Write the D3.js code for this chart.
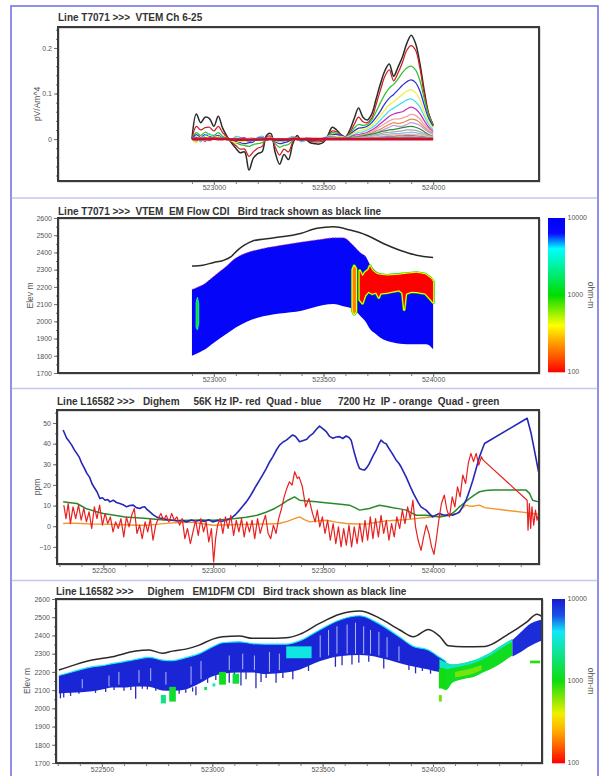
<!DOCTYPE html>
<html>
<head>
<meta charset="utf-8">
<script src="https://cdn.jsdelivr.net/npm/d3@7"></script>
<style>
  html, body { margin: 0; padding: 0; background: #ffffff; }
  svg { display: block; font-family: "Liberation Sans", Arial, sans-serif; }
</style>
</head>
<body>
<svg id="chart" width="601" height="776"></svg>
<script>
// ------------------------------------------------------------------
// Data
// ------------------------------------------------------------------

// VTEM line T7071: station easting (m) and dB/dt decay channels 6-25,
// amplitudes in units of 0.001 pV/Am^4.
const vtemStations = [
  522900,522920,522940,522960,522980,523000,523020,523040,523060,523080,523100,523120,523140,523160,
  523180,523200,523220,523240,523260,523280,523300,523320,523340,523360,523380,523400,523420,523440,
  523460,523480,523500,523520,523540,523560,523580,523600,523620,523640,523660,523680,523700,523720,
  523740,523760,523780,523800,523820,523840,523860,523880,523900,523920,523940,523960,523980,524000];
const ch06 = [0,55,36,48,45,28,50,24,6,-8,-20,-30,-28,-68,
  -42,-32,-28,8,12,-30,-55,-34,-45,-10,8,-5,-2,-8,
  -10,-11,-7,8,26,20,10,5,20,45,68,48,42,55,
  88,122,150,165,138,158,180,210,228,210,165,105,55,30];
const ch07 = [0,28,20,25,26,18,28,14,4,-6,-14,-22,-22,-38,
  -28,-20,-16,4,6,-18,-35,-22,-28,-6,5,-3,0,-5,
  -6,-6,-4,6,18,16,9,5,14,32,48,38,36,46,
  76,108,138,152,128,145,168,195,205,195,155,98,55,32];
const ch08 = [0,14,8,15,10,8,14,6,2,-3,-8,-12,-14,-16,
  -12,-10,-8,0,2,-10,-18,-14,-12,-3,3,-2,0,-3,
  -3,-3,-2,5,14,13,8,5,11,24,32,30,32,42,
  60,80,98,112,120,132,146,156,160,152,128,88,52,30];
const ch09 = [0,10,4,10,6,5,8,2,0,-2,-5,-8,-10,-8,
  -6,2,6,-2,0,-6,-10,-8,-5,0,2,0,0,-2,
  -2,-2,0,4,10,10,8,5,9,18,24,25,28,36,
  48,62,78,90,98,108,118,126,130,124,105,74,45,28];
const ch10 = [0,-8,5,2,8,4,6,0,0,-4,-8,-5,-6,-4,
  -3,0,3,0,4,-4,-6,-4,0,4,2,-4,2,0,
  2,0,2,6,8,5,6,4,8,14,18,20,24,30,
  40,52,64,75,82,90,98,105,108,102,86,60,38,24];
const ch11 = [0,5,-6,8,12,2,4,1,0,-2,6,4,-2,-5,
  -4,4,6,0,2,-2,-4,-5,2,6,0,-6,-2,2,
  0,-2,3,6,6,4,4,3,6,10,14,16,20,25,
  32,42,52,62,68,74,80,86,88,82,70,50,32,20];
const ch12 = [0,-4,3,-5,4,0,2,0,0,-1,-4,2,3,-3,
  -2,2,3,0,2,-3,-3,-2,0,3,1,-3,2,1,
  0,0,2,4,4,3,3,2,4,8,10,12,15,20,
  26,34,42,50,55,58,60,66,70,66,56,40,26,16];
const ch13 = [0,3,-3,2,-4,2,1,0,0,0,3,-3,-2,2,
  2,-2,0,0,1,-2,-2,0,2,2,-2,0,0,1,
  0,1,1,2,3,2,2,2,3,6,8,9,12,16,
  22,28,34,40,44,44,46,50,54,52,44,32,22,14];
const ch14 = [0,-2,2,-3,2,0,1,0,0,0,-2,2,1,-2,
  0,1,0,0,1,-1,-1,0,1,1,0,0,0,0,
  0,1,1,1,2,2,2,1,2,4,6,7,10,13,
  18,22,27,32,36,34,36,40,44,42,36,26,18,12];
const ch15 = [0,2,-2,1,-2,1,0,0,0,0,1,-1,-1,1,
  1,-1,0,0,0,-1,-1,0,1,1,0,0,0,0,
  0,0,1,1,1,1,1,1,2,3,4,5,7,10,
  14,18,22,26,30,28,28,32,36,34,30,22,15,10];
const ch16 = [0,1,1,-1,1,0,0,0,0,0,-1,1,0,-1,
  0,0,0,0,0,0,0,0,0,0,0,0,0,0,
  0,0,1,1,1,1,1,2,3,4,5,7,9,11,
  13,16,18,20,21,23,25,27,28,26,22,16,10,6];
const ch17 = [0,1,0,1,0,0,0,0,0,0,0,0,0,0,
  0,0,0,0,0,0,0,0,0,0,0,0,0,0,
  0,0,0,0,0,0,1,1,2,3,4,5,6,8,
  10,12,14,15,16,17,18,20,20,19,16,12,8,5];
const ch18 = [0,0,1,0,0,0,0,0,0,0,0,0,0,0,
  0,0,0,0,0,0,0,0,0,0,0,0,0,0,
  0,0,0,0,0,0,0,1,1,2,3,3,4,6,
  7,9,10,11,12,12,13,14,15,14,12,9,6,4];
const ch19 = [0,0,0,0,0,0,0,0,0,0,0,0,0,0,
  0,0,0,0,0,0,0,0,0,0,0,0,0,0,
  0,0,0,0,0,0,0,0,1,1,2,2,3,4,
  5,6,7,8,9,9,10,10,11,10,9,7,5,3];
const ch20 = [0,0,0,0,0,0,0,0,0,0,0,0,0,0,
  0,0,0,0,0,0,0,0,0,0,0,0,0,0,
  0,0,0,0,0,0,0,0,0,1,1,1,2,3,
  3,4,5,6,6,7,7,8,8,7,6,5,3,2];
const ch21 = [0,0,0,0,0,0,0,0,0,0,0,0,0,0,
  0,0,0,0,0,0,0,0,0,0,0,0,0,0,
  0,0,0,0,0,0,0,0,0,0,1,1,1,2,
  2,3,3,4,4,5,5,5,5,5,4,3,2,1];
const ch22 = [0,0,0,0,0,0,0,0,0,0,0,0,0,0,
  0,0,0,0,0,0,0,0,0,0,0,0,0,0,
  0,0,0,0,0,0,0,0,0,0,0,1,1,1,
  1,2,2,3,3,3,3,4,4,3,3,2,1,1];
const ch23 = [0,0,0,0,0,0,0,0,0,0,0,0,0,0,
  0,0,0,0,0,0,0,0,0,0,0,0,0,0,
  0,0,0,0,0,0,0,0,0,0,0,0,1,1,
  1,1,1,2,2,2,2,2,2,2,2,1,1,1];
const ch24 = [0,-1,1,0,-1,1,0,0,-1,-2,-2,-3,-2,-3,
  -2,-2,-1,0,0,-2,-3,-2,-2,-1,0,-1,0,-1,
  -1,-1,0,0,1,1,0,0,1,1,1,1,1,1,
  1,1,1,1,1,1,1,1,1,1,1,1,0,0];
const ch25 = [0,1,0,1,0,1,0,0,0,-1,-1,-1,-1,-2,
  -1,-1,-1,0,0,-1,-1,-1,-1,0,0,0,0,0,
  0,0,0,0,0,0,0,0,0,0,0,0,0,0,
  0,0,0,0,0,0,0,0,0,0,0,0,0,0];
const vtemChannels = [ch06,ch07,ch08,ch09,ch10,ch11,ch12,ch13,ch14,ch15,
                      ch16,ch17,ch18,ch19,ch20,ch21,ch22,ch23,ch24,ch25];

// VTEM EM Flow CDI, line T7071: [easting, top elev, bottom elev] (m)
const cdiVtemResistive = [[522900,2185,1800],[522920,2195,1812],[522950,2212,1830],[523000,2262,1876],
  [523050,2312,1920],[523100,2368,1964],[523150,2398,1998],[523200,2416,2021],[523300,2440,2045],
  [523400,2460,2062],[523500,2478,2095],[523545,2485,2101],[523590,2485,2088],[523635,2442,2070],
  [523667,2400,2033],[523694,2374,1995],[523712,2330,1955],[523740,2290,1925],[523758,2278,1906],
  [523818,2268,1877],[523880,2272,1867],[523940,2282,1867],[523970,2275,1867],[524000,2240,1838]];
const cdiVtemConductor = [[523665,2295,2125],[523678,2262,2105],[523690,2285,2150],[523705,2300,2172],
  [523712,2322,2168],[523722,2296,2160],[523740,2278,2168],[523752,2272,2138],[523760,2270,2162],
  [523790,2266,2166],[523810,2268,2172],[523845,2271,2180],[523860,2274,2165],[523868,2275,2068],
  [523876,2276,2160],[523900,2279,2172],[523925,2282,2170],[523964,2273,2162],[523990,2248,2125],
  [524000,2232,2110]];
const cdiVtemDyke = [[523633,2300,2060],[523640,2322,2042],[523648,2305,2055]];
const cdiVtemWestAnomaly = [[522919,2110,1965],[522925,2140,1950],[522931,2100,1990]];
const cdiVtemValues = { resistive: 8000, conductor: 100, dyke: 200, west: 900 };
const birdTrackVtem = [[522900,2321],[522950,2326],[523000,2342],[523040,2352],[523077,2374],
  [523110,2415],[523139,2442],[523180,2468],[523276,2485],[523395,2510],[523470,2540],[523545,2549],
  [523621,2530],[523697,2500],[523773,2452],[523848,2413],[523924,2384],[524000,2370]];

// Dighem line L16582 profiles: [easting, ppm]
const quad56k = [[522317,46.6],[522333,42.6],[522345,41.0],[522356,39.3],[522368,37.0],[522379,35.3],
  [522390,33.5],[522402,30.4],[522414,28.0],[522425,25.6],[522437,23.8],[522448,20.7],[522460,18.5],
  [522471,16.7],[522484,13.4],[522496,13.8],[522508,12.6],[522520,12.9],[522530,11.8],[522545,12.6],
  [522560,11.5],[522575,11.0],[522590,10.4],[522606,9.4],[522620,10.0],[522636,10.2],[522650,9.0],
  [522666,8.6],[522677,9.2],[522688,9.4],[522700,8.0],[522712,6.9],[522727,5.5],[522742,4.5],
  [522757,4.0],[522771,3.7],[522790,3.2],[522816,2.9],[522840,2.5],[522860,2.9],[522878,2.1],
  [522900,3.0],[522920,2.4],[522939,2.9],[522960,2.3],[522980,3.1],[522998,2.1],[523020,2.8],
  [523040,2.4],[523060,2.9],[523075,3.5],[523089,4.5],[523105,6.0],[523120,7.8],[523135,9.8],
  [523151,11.8],[523165,14.0],[523180,16.7],[523195,19.5],[523211,22.3],[523226,25.0],[523242,28.0],
  [523256,31.0],[523271,33.6],[523287,36.8],[523302,39.3],[523318,40.8],[523333,41.7],[523348,43.0],
  [523362,44.2],[523375,43.5],[523393,40.9],[523410,41.5],[523426,42.1],[523440,43.8],[523455,45.0],
  [523470,47.0],[523484,48.5],[523500,47.2],[523515,45.8],[523530,43.5],[523545,42.6],[523560,43.2],
  [523575,43.4],[523590,42.5],[523605,43.7],[523618,43.0],[523628,41.7],[523643,35.3],[523655,31.0],
  [523666,28.0],[523677,27.5],[523688,27.2],[523700,28.5],[523711,30.4],[523727,34.0],[523742,36.9],
  [523755,40.0],[523764,41.7],[523776,40.5],[523787,40.0],[523798,38.0],[523810,36.0],[523822,34.0],
  [523833,32.0],[523845,30.5],[523855,28.8],[523866,26.5],[523878,23.9],[523890,21.0],[523901,18.3],
  [523912,15.8],[523924,13.4],[523935,11.2],[523946,9.4],[523958,8.5],[523969,7.8],[523985,6.0],
  [523999,4.5],[524015,5.5],[524030,6.2],[524045,5.6],[524060,5.3],[524075,5.8],[524090,5.3],
  [524105,6.0],[524121,6.9],[524136,9.5],[524151,12.6],[524166,17.0],[524182,22.3],[524197,28.0],
  [524212,33.6],[524224,37.0],[524235,40.1],[524429,52.3],[524447,45.0],[524462,36.9],[524481,26.4]];
const ip56k = [[522320,10.2],[522330,3.7],[522340,11.0],[522350,1.3],[522362,9.4],[522374,3.7],
  [522387,10.2],[522399,2.9],[522411,8.6],[522423,2.1],[522435,7.0],[522447,-1.1],[522459,9.4],
  [522471,3.7],[522483,10.2],[522496,0.5],[522508,6.2],[522520,1.3],[522532,4.5],[522544,-2.7],
  [522556,2.1],[522568,-1.1],[522580,3.7],[522593,-5.2],[522605,4.5],[522617,-0.3],[522629,5.3],
  [522641,8.6],[522653,-3.5],[522665,0.5],[522677,-6.0],[522690,2.1],[522702,-2.7],[522714,3.7],
  [522726,-6.8],[522738,0.5],[522750,3.7],[522762,6.2],[522774,2.9],[522786,5.3],[522799,2.1],
  [522811,6.2],[522823,2.9],[522835,4.5],[522847,0.5],[522859,3.7],[522871,-6.0],[522883,-1.1],
  [522896,-8.4],[522908,-2.7],[522920,2.9],[522932,-4.4],[522944,3.7],[522956,-2.7],[522968,2.1],
  [522980,-7.6],[522992,-1.1],[523002,-17.3],[523011,-6.0],[523020,0.5],[523032,3.7],[523044,-3.5],
  [523056,4.5],[523068,-1.1],[523080,5.3],[523093,-4.4],[523105,2.9],[523117,-2.7],[523129,3.7],
  [523141,-5.2],[523153,2.1],[523165,-2.7],[523177,2.9],[523189,-6.0],[523202,3.7],[523214,-3.5],
  [523226,1.3],[523238,5.3],[523250,-3.5],[523262,-6.0],[523274,0.5],[523286,-3.5],[523298,3.7],
  [523311,8.6],[523323,14.2],[523335,18.3],[523347,21.5],[523359,19.9],[523371,26.4],[523383,23.1],
  [523391,23.9],[523406,19.1],[523421,9.4],[523436,13.4],[523452,6.2],[523464,2.1],[523474,7.8],
  [523485,-0.3],[523497,4.5],[523509,-3.5],[523521,2.9],[523533,-6.8],[523546,1.3],[523558,-8.4],
  [523570,-0.3],[523582,-10.0],[523594,-1.1],[523606,-9.2],[523618,0.5],[523630,-10.0],[523642,-0.3],
  [523655,-8.4],[523667,1.3],[523679,-7.6],[523691,2.9],[523703,-6.8],[523715,4.5],[523727,-6.0],
  [523739,3.7],[523752,-5.2],[523764,5.3],[523776,-3.5],[523788,2.9],[523800,-6.8],[523812,1.3],
  [523824,-5.2],[523836,4.5],[523849,-1.1],[523861,7.8],[523873,1.3],[523885,9.4],[523897,3.7],
  [523909,12.6],[523921,-0.3],[523933,-6.8],[523946,-11.7],[523958,-5.2],[523970,0.5],[523982,-3.5],
  [523994,-10.0],[524005,-13.6],[524015,-6.8],[524027,2.9],[524039,11.0],[524052,15.1],[524064,7.8],
  [524076,4.5],[524088,14.2],[524100,9.4],[524112,19.1],[524124,14.2],[524136,24.8],[524149,20.7],
  [524161,30.4],[524173,35.3],[524185,31.3],[524197,35.3],[524209,29.6],[524221,33.7],[524229,32.0],
  [524429,12.6],[524433,-1.9],[524439,11.0],[524445,-1.1],[524451,9.4],[524459,0.5],[524467,7.8],
  [524474,2.9],[524482,6.2]];
const quad7200 = [[522317,11.8],[522350,11.4],[522380,11.0],[522400,9.8],[522420,8.6],[522460,7.3],
  [522500,6.2],[522550,5.3],[522600,4.5],[522650,4.1],[522700,3.7],[522750,3.3],[522800,2.9],
  [522850,2.8],[522900,2.9],[522950,3.0],[523000,2.9],[523050,3.3],[523100,3.7],[523150,4.4],
  [523200,5.3],[523240,6.8],[523280,8.6],[523310,10.5],[523340,12.6],[523370,14.2],[523393,12.6],
  [523430,12.2],[523470,11.8],[523510,11.4],[523545,11.0],[523580,10.6],[523620,10.2],[523645,9.0],
  [523666,7.8],[523690,8.2],[523711,8.6],[523735,9.4],[523757,10.2],[523790,9.6],[523818,9.0],
  [523850,8.4],[523878,7.8],[523900,6.6],[523924,5.3],[523969,5.3],[524000,4.9],[524030,4.5],
  [524075,5.3],[524100,7.2],[524121,9.4],[524145,11.5],[524166,13.4],[524190,15.2],[524212,16.7],
  [524240,17.3],[524273,17.5],[524350,17.6],[524424,17.5],[524440,15.9],[524454,12.6],[524481,11.8]];
const ip7200 = [[522317,1.3],[522350,1.5],[522400,1.3],[522450,1.0],[522500,1.0],[522550,0.8],
  [522600,0.7],[522650,0.5],[522700,0.5],[522750,1.0],[522800,1.5],[522850,1.8],[522900,2.0],
  [522950,1.2],[523000,0.5],[523050,0.6],[523100,0.8],[523150,0.9],[523200,1.0],[523250,1.1],
  [523300,1.3],[523340,2.5],[523370,3.7],[523393,4.5],[523415,3.2],[523440,2.1],[523480,2.6],
  [523515,2.9],[523560,2.0],[523605,1.3],[523650,1.1],[523696,1.0],[523740,1.8],[523787,2.6],
  [523830,2.9],[523878,3.2],[523920,3.7],[523969,4.2],[524010,4.7],[524060,5.3],[524090,5.8],
  [524113,6.2],[524130,8.5],[524151,10.2],[524166,9.8],[524182,9.7],[524197,10.0],[524212,10.2],
  [524235,9.0],[524454,6.2],[524481,6.0]];

// Dighem EM1DFM CDI, line L16582: [easting, top elev, bottom elev] (m)
const cdiDighemBody = [[522305,2180,2082],[522360,2198,2086],[522456,2228,2094],[522500,2234,2104],
  [522547,2245,2115],[522600,2256,2114],[522653,2268,2120],[522714,2280,2118],[522774,2265,2098],
  [522820,2262,2096],[522880,2278,2104],[522941,2300,2136],[523002,2338,2176],[523047,2360,2190],
  [523123,2365,2196],[523183,2355,2196],[523244,2352,2188],[523335,2352,2196],[523395,2370,2212],
  [523486,2430,2258],[523577,2485,2286],[523668,2508,2292],[523759,2462,2278],[523850,2390,2248],
  [523911,2340,2230],[523979,2320,2213],[524030,2280,2200],[524060,2255,2225]];
const cdiDighemBand = [[524030,2270,2120],[524060,2250,2100],[524088,2241,2140],[524120,2245,2155],
  [524149,2252,2164],[524190,2265,2175],[524224,2283,2195],[524260,2305,2215],[524300,2338,2240],
  [524338,2366,2272],[524360,2380,2290]];
const cdiDighemCap = [[524030,2270,2225],[524060,2250,2215],[524088,2241,2222],[524120,2245,2228],
  [524149,2252,2236],[524190,2265,2250],[524224,2283,2268],[524260,2305,2290],[524300,2338,2322],
  [524338,2366,2350],[524360,2380,2364]];
const cdiDighemCore = [[524100,2200,2170],[524140,2210,2178],[524180,2222,2190],[524220,2236,2210]];
const cdiDighemBlock = [[524360,2375,2285],[524400,2420,2310],[524430,2455,2335],[524460,2475,2355],
  [524494,2488,2372]];
// [west, east, top, bottom, ohm-m]
const cdiDighemPatches = [[522767,522790,2073,2027,2000],
  [522805,522835,2118,2037,1200],[522964,522976,2118,2100,1500],[523001,523014,2137,2120,3000],
  [523031,523062,2200,2130,1100],[523092,523122,2190,2135,1300],[523335,523450,2340,2275,3500],
  [524027,524057,2219,2109,1000],[524027,524040,2073,2037,700],[524440,524485,2262,2247,900]];
// [easting, top, bottom] for deep resistive streaks and thin gaps
const cdiDighemStreaks = [[522312,2100,2055],[522327,2100,2060],[522358,2102,2068],[522396,2104,2080],
  [522471,2110,2085],[522517,2118,2090],[522555,2124,2100],[522600,2122,2096],[522631,2120,2100],
  [522653,2125,2052],[522683,2132,2108],[522706,2130,2104],[522744,2120,2096],[522850,2100,2080],
  [522880,2105,2086],[522911,2115,2092],[522926,2120,2072],[522979,2170,2140],[523016,2182,2156],
  [523039,2190,2150],[523077,2196,2140],[523100,2198,2166],[523130,2200,2125],[523153,2200,2160],
  [523198,2198,2110],[523221,2195,2145],[523244,2192,2166],[523289,2195,2140],[523320,2198,2166],
  [523365,2205,2160],[523436,2240,2205],[523558,2285,2228],[523588,2290,2237],[523633,2292,2240],
  [523664,2294,2250],[523709,2290,2255],[523777,2278,2219],[523891,2240,2210],[523921,2230,2192],
  [523952,2222,2205],[523989,2212,2190]];
const cdiDighemGaps = [[522411,2160,2110],[522532,2180,2120],[522577,2200,2130],[522668,2210,2140],
  [522721,2220,2150],[522790,2200,2130],[522904,2230,2130],[522949,2260,2160],[523077,2290,2210],
  [523138,2300,2215],[523191,2290,2210],[523259,2310,2200],[523304,2300,2210],[523489,2400,2280],
  [523527,2430,2290],[523565,2450,2300],[523611,2460,2300],[523649,2470,2300],[523686,2450,2300],
  [523717,2430,2300],[523755,2420,2290],[523792,2390,2280],[523846,2340,2260]];
const cdiDighemValues = { body: 9000, edge: 4000, band: 1100, cap: 3000, core: 600, block: 8500 };
const birdTrackDighem = [[522305,2210],[522380,2240],[522456,2265],[522547,2283],[522653,2314],
  [522714,2320],[522774,2302],[522820,2314],[522880,2325],[522941,2347],[523002,2380],[523047,2393],
  [523123,2397],[523183,2384],[523244,2384],[523335,2387],[523395,2406],[523486,2466],[523577,2516],
  [523668,2534],[523759,2494],[523850,2430],[523911,2393],[523979,2433],[524032,2393],[524070,2343],
  [524138,2338],[524236,2340],[524335,2402],[524426,2475],[524471,2516],[524494,2503]];

// Axis ticks and labels
const eastMinorVtem = [522900,523000,523100,523200,523300,523400,523500,523600,523700,523800,523900,524000];
const eastMajorVtem = [523000,523500,524000];
const eastMinorDighem = [522300,522400,522500,522600,522700,522800,522900,523000,523100,523200,523300,
  523400,523500,523600,523700,523800,523900,524000,524100,524200,524300,524400];
const eastMajorDighem = [522500,523000,523500,524000];
const dbdtMinor = [-0.08,-0.06,-0.04,-0.02,0,0.02,0.04,0.06,0.08,0.1,0.12,0.14,0.16,0.18,0.2,0.22,0.24];
const dbdtMajor = [0,0.1,0.2];
const elevMinor = [1700,1750,1800,1850,1900,1950,2000,2050,2100,2150,2200,2250,2300,2350,2400,2450,2500,2550,2600];
const elevMajor = [1700,1800,1900,2000,2100,2200,2300,2400,2500,2600];
const ppmMinor = [-15,-10,-5,0,5,10,15,20,25,30,35,40,45,50,55];
const ppmMajor = [-10,0,10,20,30,40,50];
const resistivityLabels = [10000,1000,100];

const titles = [
  "Line T7071 >>>  VTEM Ch 6-25",
  "Line T7071 >>>  VTEM  EM Flow CDI   Bird track shown as black line",
  "Line L16582 >>>   Dighem     56K Hz IP- red  Quad - blue      7200 Hz  IP - orange  Quad - green",
  "Line L16582 >>>     Dighem   EM1DFM CDI   Bird track shown as black line"
];

// ------------------------------------------------------------------
// Styles and layout
// ------------------------------------------------------------------
const channelColors = ["#2b2b2b","#cc2020","#30c030","#3030d0","#f0f040","#40e0e8","#c030c0","#f0a0a8",
  "#e09050","#c898e0","#2f8a3a","#a8a8a8","#90b8f0","#e8c890","#b070a0","#98c898","#7878b0","#d08080",
  "#303030","#c8102e"];
const resStops = [100,160,250,400,1000,4000,6300,10000];
const paletteVtem = ["#ff0000","#ff5a00","#ffa500","#ffff00","#00dc00","#00ffff","#0a0aff","#0000f4"];
const paletteDighem = ["#ff0000","#ff6000","#ffb000","#f0f000","#10dc10","#10e8f8","#1a50e8","#1a1ad0"];

const boxes = [
  {l:58, r:539, t:27,  b:181, titleY:21},
  {l:58, r:539, t:218, b:373, titleY:214.5},
  {l:57, r:539, t:410, b:564, titleY:405},
  {l:56, r:542, t:599, b:763, titleY:594.5}
];
const barVtem = {l:548, r:565, t:218, b:372};
const barDighem = {l:552, r:565, t:599, b:763};

const svg = d3.select("#chart");
const FONT = "'Liberation Sans', Arial, sans-serif";

// ------------------------------------------------------------------
// Page frame and panel separators
// ------------------------------------------------------------------
svg.append("rect").attr("x", 11).attr("y", 6).attr("width", 587).attr("height", 790)
  .attr("fill", "none").attr("stroke", "#7474e4").attr("stroke-width", 1.6);
[198, 388.5, 580.5].forEach(yy => {
  svg.append("line").attr("x1", 11.8).attr("x2", 597.2).attr("y1", yy).attr("y2", yy)
    .attr("stroke", "#c6c6f0").attr("stroke-width", 1.6);
});

// ------------------------------------------------------------------
// Helpers
// ------------------------------------------------------------------
function makePanel(i, xDomain, yDomain) {
  const box = boxes[i];
  const g = svg.append("g");
  const x = d3.scaleLinear().domain(xDomain).range([box.l, box.r]);
  const y = d3.scaleLinear().domain(yDomain).range([box.b, box.t]);
  const id = "clip" + i;
  svg.append("clipPath").attr("id", id).append("rect")
    .attr("x", box.l).attr("y", box.t).attr("width", box.r - box.l).attr("height", box.b - box.t);
  const plot = g.append("g").attr("clip-path", `url(#${id})`);
  g.append("text").attr("x", box.l).attr("y", box.titleY)
    .attr("font-family", FONT).attr("font-size", 10).attr("font-weight", "bold")
    .attr("fill", "#333").attr("xml:space", "preserve").style("white-space", "pre")
    .text(titles[i]);
  return {g, x, y, plot, box};
}

function styleAxis(sel) {
  sel.attr("font-family", FONT).attr("font-size", 7);
  sel.select(".domain").remove();
  sel.selectAll("line").attr("stroke", "#707070");
  sel.selectAll("text").attr("fill", "#555");
}

function xAxis(p, minor, major) {
  p.g.append("g").attr("transform", `translate(0,${p.box.b})`)
    .call(d3.axisBottom(p.x).tickValues(minor).tickSize(3).tickFormat(""))
    .call(styleAxis);
  p.g.append("g").attr("transform", `translate(0,${p.box.b})`)
    .call(d3.axisBottom(p.x).tickValues(major).tickSize(4).tickPadding(0.5).tickFormat(d3.format("d")))
    .call(styleAxis);
}

function yAxis(p, minor, major, fmt, label, labelX) {
  p.g.append("g").attr("transform", `translate(${p.box.l},0)`)
    .call(d3.axisLeft(p.y).tickValues(minor).tickSize(2).tickFormat(""))
    .call(styleAxis);
  p.g.append("g").attr("transform", `translate(${p.box.l},0)`)
    .call(d3.axisLeft(p.y).tickValues(major).tickSize(4).tickPadding(2).tickFormat(fmt))
    .call(styleAxis);
  const cy = (p.box.t + p.box.b) / 2;
  p.g.append("text").attr("transform", `translate(${labelX},${cy}) rotate(-90)`)
    .attr("text-anchor", "middle").attr("font-family", FONT).attr("font-size", 8.5)
    .attr("fill", "#555").text(label);
}

function frame(p) {
  p.g.append("rect").attr("x", p.box.l + 1).attr("y", p.box.t + 1)
    .attr("width", p.box.r - p.box.l).attr("height", p.box.b - p.box.t)
    .attr("fill", "none").attr("stroke", "#b8b8b8").attr("stroke-width", 1);
  p.g.append("rect").attr("x", p.box.l).attr("y", p.box.t)
    .attr("width", p.box.r - p.box.l).attr("height", p.box.b - p.box.t)
    .attr("fill", "none").attr("stroke", "#3a3a3a").attr("stroke-width", 2);
}

function colorbar(bar, scale) {
  const yb = d3.scaleLog().domain([100, 10000]).range([bar.b, bar.t]);
  const rows = d3.range(bar.t, bar.b, 1);
  svg.append("g").selectAll("rect").data(rows).join("rect")
    .attr("x", bar.l).attr("y", d => d).attr("width", bar.r - bar.l).attr("height", 1.3)
    .attr("fill", d => scale(yb.invert(d + 0.5)));
  svg.append("g").selectAll("text").data(resistivityLabels).join("text")
    .attr("x", bar.r + 2.5).attr("y", d => yb(d)).attr("dy", "0.35em")
    .attr("font-family", FONT).attr("font-size", 7).attr("fill", "#555")
    .text(d => d);
  const cy = (bar.t + bar.b) / 2;
  svg.append("text").attr("transform", `translate(${bar.r + 23},${cy}) rotate(90)`)
    .attr("text-anchor", "middle").attr("font-family", FONT).attr("font-size", 8.5)
    .attr("fill", "#555").text("ohm-m");
}

function sectionArea(p, curve) {
  return d3.area().x(d => p.x(d[0])).y0(d => p.y(d[2])).y1(d => p.y(d[1])).curve(curve);
}

// ------------------------------------------------------------------
// Panel 1: VTEM decay channels
// ------------------------------------------------------------------
{
  const p = makePanel(0, [522289, 524483], [-0.092, 0.246]);
  const line = d3.line()
    .x((d, i) => p.x(vtemStations[i]))
    .y(d => p.y(d / 1000))
    .curve(d3.curveCatmullRom.alpha(0.5));
  p.plot.selectAll("path.ch").data(vtemChannels).join("path")
    .attr("class", "ch")
    .attr("d", line)
    .attr("fill", "none")
    .attr("stroke", (d, i) => channelColors[i])
    .attr("stroke-width", (d, i) => i === 0 ? 1.5 : (i === vtemChannels.length - 1 ? 2.6 : 1.25))
    .attr("stroke-linejoin", "round");
  xAxis(p, eastMinorVtem, eastMajorVtem);
  yAxis(p, dbdtMinor, dbdtMajor, d => d === 0 ? "0" : d3.format(".1f")(d), "pV/Am^4", 40);
  frame(p);
}

// ------------------------------------------------------------------
// Panel 2: VTEM EM Flow CDI section
// ------------------------------------------------------------------
const resVtem = d3.scaleLog().domain(resStops).range(paletteVtem).clamp(true);
{
  const p = makePanel(1, [522289, 524483], [1700, 2600]);
  const smooth = sectionArea(p, d3.curveMonotoneX);
  const sharp = sectionArea(p, d3.curveLinear);
  p.plot.append("path").attr("d", smooth(cdiVtemResistive)).attr("fill", resVtem(cdiVtemValues.resistive));
  // magenta fringe along the top of the section
  p.plot.append("path")
    .attr("d", d3.line().x(d => p.x(d[0])).y(d => p.y(d[1])).curve(d3.curveMonotoneX)(cdiVtemResistive.filter(d => d[0] <= 523700)))
    .attr("fill", "none").attr("stroke", "#e0409a").attr("stroke-width", 1).attr("stroke-dasharray", "1.5,1.5").attr("opacity", 0.8);
  // west anomaly
  p.plot.append("path").attr("d", sharp(cdiVtemWestAnomaly))
    .attr("fill", resVtem(cdiVtemValues.west)).attr("stroke", resVtem(2500)).attr("stroke-width", 1);
  // conductive zone, outlined by intermediate resistivity fringes
  [[cdiVtemDyke, cdiVtemValues.dyke], [cdiVtemConductor, cdiVtemValues.conductor]].forEach(([zone, v]) => {
    p.plot.append("path").attr("d", sharp(zone)).attr("fill", "none")
      .attr("stroke", resVtem(1000)).attr("stroke-width", 3.2).attr("stroke-linejoin", "round");
    p.plot.append("path").attr("d", sharp(zone)).attr("fill", "none")
      .attr("stroke", resVtem(400)).attr("stroke-width", 2).attr("stroke-linejoin", "round");
    p.plot.append("path").attr("d", sharp(zone)).attr("fill", resVtem(v));
  });
  p.plot.append("path")
    .attr("d", d3.line().x(d => p.x(d[0])).y(d => p.y(d[1])).curve(d3.curveMonotoneX)(birdTrackVtem))
    .attr("fill", "none").attr("stroke", "#2a2a2a").attr("stroke-width", 1.5);
  xAxis(p, eastMinorVtem, eastMajorVtem);
  yAxis(p, elevMinor, elevMajor, d3.format("d"), "Elev m", 33);
  frame(p);
  colorbar(barVtem, resVtem);
}

// ------------------------------------------------------------------
// Panel 3: Dighem in-phase / quadrature profiles
// ------------------------------------------------------------------
{
  const p = makePanel(2, [522289, 524483], [-18.3, 56.3]);
  const line = d3.line().x(d => p.x(d[0])).y(d => p.y(d[1]));
  const series = [
    {data: ip7200,   color: "#f0962a", width: 1.4},
    {data: quad7200, color: "#2a8a2a", width: 1.5},
    {data: quad56k,  color: "#2626b8", width: 1.6},
    {data: ip56k,    color: "#e82020", width: 1.2}
  ];
  series.forEach(s => {
    p.plot.append("path").attr("d", line(s.data)).attr("fill", "none")
      .attr("stroke", s.color).attr("stroke-width", s.width).attr("stroke-linejoin", "round");
  });
  xAxis(p, eastMinorDighem, eastMajorDighem);
  yAxis(p, ppmMinor, ppmMajor, d3.format("d"), "ppm", 40);
  frame(p);
}

// ------------------------------------------------------------------
// Panel 4: Dighem EM1DFM CDI section
// ------------------------------------------------------------------
const resDighem = d3.scaleLog().domain(resStops).range(paletteDighem).clamp(true);
{
  const p = makePanel(3, [522292, 524494], [1700, 2600]);
  const smooth = sectionArea(p, d3.curveMonotoneX);
  const topLine = d3.line().x(d => p.x(d[0])).y(d => p.y(d[1])).curve(d3.curveMonotoneX);
  // deep streaks below the main body
  p.plot.selectAll("line.streak").data(cdiDighemStreaks).join("line").attr("class", "streak")
    .attr("x1", d => p.x(d[0])).attr("x2", d => p.x(d[0]))
    .attr("y1", d => p.y(d[1])).attr("y2", d => p.y(d[2]))
    .attr("stroke", "#2a2ab8").attr("stroke-width", 1.3);
  p.plot.append("path").attr("d", smooth(cdiDighemBody)).attr("fill", resDighem(cdiDighemValues.body));
  p.plot.append("path").attr("d", smooth(cdiDighemBand)).attr("fill", resDighem(cdiDighemValues.band));
  p.plot.append("path").attr("d", smooth(cdiDighemCore)).attr("fill", resDighem(cdiDighemValues.core)).attr("opacity", 0.8);
  p.plot.append("path").attr("d", smooth(cdiDighemCap)).attr("fill", resDighem(cdiDighemValues.cap));
  p.plot.append("path").attr("d", smooth(cdiDighemBlock)).attr("fill", resDighem(cdiDighemValues.block));
  p.plot.selectAll("rect.patch").data(cdiDighemPatches).join("rect").attr("class", "patch")
    .attr("x", d => p.x(d[0])).attr("width", d => p.x(d[1]) - p.x(d[0]))
    .attr("y", d => p.y(d[2])).attr("height", d => p.y(d[3]) - p.y(d[2]))
    .attr("fill", d => resDighem(d[4]));
  p.plot.selectAll("line.gap").data(cdiDighemGaps).join("line").attr("class", "gap")
    .attr("x1", d => p.x(d[0])).attr("x2", d => p.x(d[0]))
    .attr("y1", d => p.y(d[1])).attr("y2", d => p.y(d[2]))
    .attr("stroke", "#ffffff").attr("stroke-width", 0.9).attr("opacity", 0.75);
  // lighter edge along the top of the section
  p.plot.append("path").attr("d", topLine(cdiDighemBody)).attr("fill", "none")
    .attr("stroke", resDighem(cdiDighemValues.edge)).attr("stroke-width", 1.2);
  p.plot.append("path")
    .attr("d", d3.line().x(d => p.x(d[0])).y(d => p.y(d[1])).curve(d3.curveMonotoneX)(birdTrackDighem))
    .attr("fill", "none").attr("stroke", "#2a2a2a").attr("stroke-width", 1.5);
  xAxis(p, eastMinorDighem, eastMajorDighem);
  yAxis(p, elevMinor, elevMajor, d3.format("d"), "Elev m", 30);
  frame(p);
  colorbar(barDighem, resDighem);
}
</script>
</body>
</html>
